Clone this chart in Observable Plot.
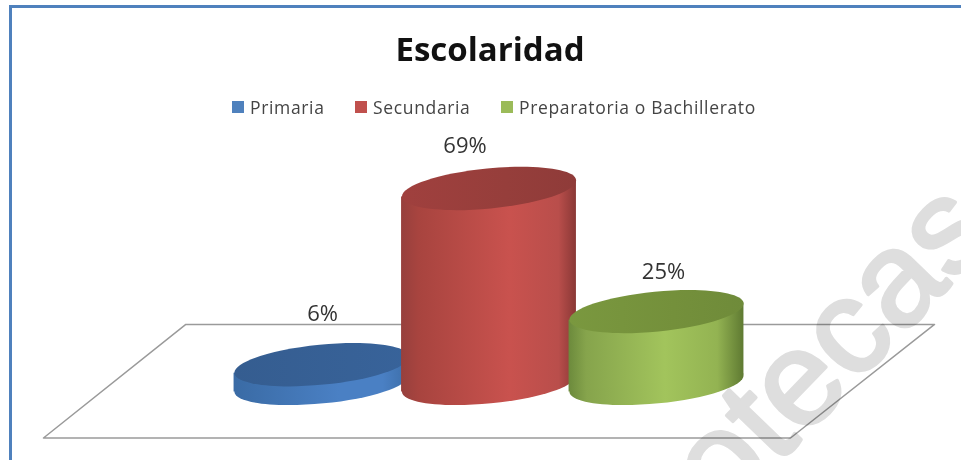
<!DOCTYPE html>
<html><head><meta charset="utf-8">
<script src="https://cdn.jsdelivr.net/npm/d3@7"></script>
<script src="https://cdn.jsdelivr.net/npm/@observablehq/plot@0.6"></script>
<style>
html,body{margin:0;padding:0;background:#fff}
#page{position:relative;width:961px;height:460px;overflow:hidden;font-family:"Open Sans",sans-serif}
#frame{position:absolute;left:9px;top:5px;right:0;height:460px;border:solid #4f81bd;border-width:3px 0 0 3px;box-sizing:border-box;pointer-events:none}
#title{position:absolute;left:0;width:980px;top:27px;text-align:center;font-weight:700;font-size:33px;line-height:44px;color:#111}
#legend{position:absolute;top:94px;left:0;font-size:17.5px;letter-spacing:.65px;line-height:26px;color:#444;white-space:nowrap}
#legend span.k{display:inline-block;width:12px;height:12px;margin-right:6px}
#legend div{position:absolute;top:0;display:flex;align-items:center}
svg{position:absolute;left:0;top:0}
</style></head>
<body><div id="page"><div id="frame"></div><div id="title">Escolaridad</div><div id="legend"></div></div>
<script>
const categorias = ["Primaria", "Secundaria", "Preparatoria o Bachillerato"];
const valores = [6, 69, 25];
const etiquetas = ["6%", "69%", "25%"];
const leyenda = ["#4f81bd", "#c0504d", "#9bbb59"];

const datos = categorias.map((c, i) => ({c, i, v: valores[i], t: etiquetas[i]}));
const base = -0.7, half = 0.522, rx = 87.5, ry = 20, tilt = -5.6 * Math.PI / 180;
const labelDx = [1, -24, 7], labelDy = [-51, -43, -40];
const legendLeft = [232, 355, 501];

const ellipse = {draw(p) {
  const k = 0.5523, c = Math.cos(tilt), s = Math.sin(tilt);
  const P = (x, y) => [x * c - y * s, x * s + y * c];
  const seg = (a, b, d) => p.bezierCurveTo(...P(...a), ...P(...b), ...P(...d));
  p.moveTo(...P(rx, 0));
  seg([rx, k * ry], [k * rx, ry], [0, ry]);
  seg([-k * rx, ry], [-rx, k * ry], [-rx, 0]);
  seg([-rx, -k * ry], [-k * rx, -ry], [0, -ry]);
  seg([k * rx, -ry], [rx, -k * ry], [rx, 0]);
  p.closePath();
}};

const gradStops = [
  [["0","#3a6ba5"],["0.6","#4a80c4"],["0.85","#4a80c4"],["1","#3d6ea8"]],
  [["0","#97403d"],["0.1","#a8443f"],["0.62","#c9524e"],["0.9","#b94e4b"],["1","#8a3836"]],
  [["0","#6c8a3c"],["0.1","#86a44c"],["0.55","#a2c45c"],["0.85","#93b352"],["1","#5f7a32"]]
];
const topStops = [
  [["0","#355d90"],["1","#38639a"]],
  [["0","#a0403e"],["0.6","#963e3b"],["1","#8f3b39"]],
  [["0","#7a983f"],["0.6","#74903b"],["1","#6f8b3a"]]
];
const defs = () => {
  const s = document.createElementNS("http://www.w3.org/2000/svg", "defs");
  const grad = (id, stops) => `<linearGradient id="${id}" x1="0" x2="1" y1="0" y2="0">${stops.map(([o, col]) => `<stop offset="${o}" stop-color="${col}"/>`).join("")}</linearGradient>`;
  s.innerHTML = gradStops.map((g, i) => grad("body" + i, g)).join("") + topStops.map((g, i) => grad("top" + i, g)).join("");
  return s;
};
const skew = (i, sc, v, d, ctx, next) => {
  const g = next(i, sc, v, d, ctx);
  d3.select(g).selectAll("rect").each(function() {
    const cx = +this.getAttribute("x") + +this.getAttribute("width") / 2;
    const cy = +this.getAttribute("y");
    this.setAttribute("transform", `translate(${cx},${cy}) skewY(${tilt * 180 / Math.PI}) translate(${-cx},${-cy})`);
  });
  return g;
};

const piso = [[-0.81, 20.4], [3.66, 20.4], [2.8, -20.2], [-1.66, -20.2], [-0.81, 20.4]];

const marks = [defs, Plot.line(piso, {x: d => d[0], y: d => d[1], stroke: "#9a9a9a", strokeWidth: 1.5})];
datos.forEach(d => {
  marks.push(
    Plot.dot([d], {x: "i", y: () => base, symbol: ellipse, fill: `url(#body${d.i})`}),
    Plot.rectY([d], {x1: e => e.i - half, x2: e => e.i + half, y1: () => base, y2: "v", fill: `url(#body${d.i})`, render: skew}),
    Plot.dot([d], {x: "i", y: "v", symbol: ellipse, fill: `url(#top${d.i})`})
  );
});
datos.forEach(d => marks.push(Plot.text([d], {x: "i", y: "v", text: "t", dx: labelDx[d.i], dy: labelDy[d.i], fontSize: 22, fill: "#333"})));
marks.push(Plot.text(["otecas"], {
  x: 3.04, y: 12, text: d => d, rotate: -46, textAnchor: "middle",
  fontSize: 134, fontFamily: "Liberation Sans", fill: "#dedede", stroke: "#dedede", strokeWidth: 3.5, mixBlendMode: "multiply"
}));

const chart = Plot.plot({
  width: 961, height: 460, margin: 0,
  x: {type: "linear", domain: [0, 2], range: [321, 656], axis: null},
  y: {type: "linear", domain: [0, 69], range: [381, 188], axis: null},
  style: {background: "transparent", fontFamily: "'Open Sans',sans-serif"},
  marks
});
document.getElementById("page").appendChild(chart);

d3.select("#legend").selectAll("div").data(categorias).join("div")
  .style("left", (d, i) => legendLeft[i] + "px")
  .html((d, i) => `<span class="k" style="background:${leyenda[i]}"></span>${d}`);
</script></body></html>
